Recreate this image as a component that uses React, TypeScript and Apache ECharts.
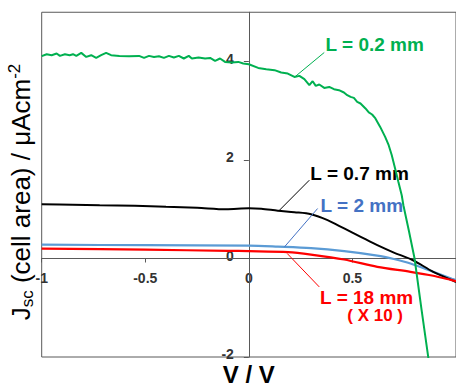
import React, { useEffect, useRef } from "react";
import * as echarts from "echarts";

const FONT = '"Liberation Sans", Arial, "DejaVu Sans", sans-serif';

// Photocurrent–voltage curves: [V (volts), Jsc (µA cm^-2)]
const curveL02: [number, number][] = [
  [-1.0, 4.108], [-0.976, 4.148], [-0.952, 4.128], [-0.928, 4.162], [-0.912, 4.114],
  [-0.888, 4.148], [-0.865, 4.128], [-0.849, 4.148], [-0.833, 4.114], [-0.809, 4.175],
  [-0.785, 4.093], [-0.761, 4.128], [-0.737, 4.073], [-0.713, 4.128], [-0.689, 4.175],
  [-0.665, 4.128], [-0.625, 4.114], [-0.578, 4.108], [-0.53, 4.114], [-0.506, 4.073],
  [-0.482, 4.114], [-0.458, 4.093], [-0.434, 4.108], [-0.41, 4.073], [-0.386, 4.114],
  [-0.362, 4.081], [-0.338, 4.114], [-0.314, 4.061], [-0.29, 4.114], [-0.275, 4.061],
  [-0.243, 4.081], [-0.211, 4.061], [-0.187, 4.073], [-0.163, 4.012], [-0.139, 4.061],
  [-0.115, 3.992], [-0.083, 3.98], [-0.051, 3.992], [-0.027, 3.959], [0.0, 3.945],
  [0.045, 3.87], [0.084, 3.844], [0.124, 3.824], [0.156, 3.777], [0.188, 3.756],
  [0.22, 3.687], [0.244, 3.708], [0.268, 3.641], [0.292, 3.519], [0.308, 3.6],
  [0.323, 3.505], [0.34, 3.533], [0.364, 3.464], [0.388, 3.484], [0.411, 3.438],
  [0.435, 3.418], [0.459, 3.371], [0.475, 3.316], [0.491, 3.281], [0.507, 3.261],
  [0.523, 3.18], [0.539, 3.147], [0.563, 3.046], [0.579, 2.965], [0.595, 2.924],
  [0.611, 2.843], [0.634, 2.672], [0.658, 2.469], [0.675, 2.301], [0.69, 2.097],
  [0.706, 1.827], [0.722, 1.555], [0.738, 1.285], [0.746, 1.082], [0.772, 0.575],
  [0.8, 0.0], [0.834, -1.05], [0.866, -2.004], [0.875, -2.3],
];

const curveL07: [number, number][] = [
  [-1.0, 1.1], [-0.85, 1.09], [-0.72, 1.08], [-0.55, 1.07], [-0.4, 1.05],
  [-0.25, 1.03], [-0.11, 1.0], [0.0, 1.02], [0.06, 1.01], [0.14, 0.97],
  [0.22, 0.94], [0.3, 0.9], [0.38, 0.78], [0.46, 0.61], [0.54, 0.44],
  [0.62, 0.27], [0.7, 0.12], [0.79, -0.03], [0.89, -0.27], [0.98, -0.44], [1.0, -0.48],
];

const curveL2: [number, number][] = [
  [-1.0, 0.28], [-0.5, 0.27], [0.0, 0.26], [0.14, 0.24], [0.3, 0.21],
  [0.46, 0.15], [0.62, 0.06], [0.7, -0.01], [0.78, -0.1], [0.89, -0.27],
  [0.98, -0.41], [1.0, -0.44],
];

// L = 18 mm values are shown multiplied by 10
const curveL18x10: [number, number][] = [
  [-1.0, 0.2], [-0.5, 0.18], [-0.1, 0.155], [0.0, 0.15], [0.19, 0.13],
  [0.3, 0.08], [0.46, -0.02], [0.62, -0.17], [0.78, -0.27], [0.89, -0.35],
  [0.98, -0.44], [1.0, -0.46],
];

const xTicks = [-1, -0.5, 0, 0.5];
const yTicks = [-2, 0, 2, 4];

const GREEN = "#00b050";
const BLACK = "#000000";
const BLUE_LINE = "#5b9bd5";
const BLUE_TEXT = "#4472c4";
const RED = "#ff0000";
const AXIS = "#595959";
const TICK_TEXT = "#333333";

// Curve annotations (anchor is the left-middle of the text, in data units)
const annotations = [
  { text: "L = 0.2 mm", color: GREEN, size: 19, at: [0.37, 4.337] },
  { text: "L = 0.7 mm", color: BLACK, size: 19, at: [0.297, 1.726] },
  { text: "L = 2 mm", color: BLUE_TEXT, size: 19, at: [0.346, 1.066] },
  { text: "L = 18 mm", color: RED, size: 19, at: [0.344, -0.786] },
  { text: "( X 10 )", color: RED, size: 17, at: [0.475, -1.165] },
];

// Leader lines from each annotation to its curve
const leaderL02 = [[0.364, 4.183], [0.22, 3.681]];
const leaderL07 = [[0.292, 1.59], [0.148, 0.981]];
const leaderL2 = [[0.332, 1.015], [0.172, 0.236]];
const leaderL18 = [[0.185, 0.102], [0.34, -0.577]];

function leader(pts: number[][], color: string) {
  return {
    silent: true,
    symbol: ["none", "none"],
    animation: false,
    label: { show: false },
    emphasis: { disabled: true },
    lineStyle: { color, width: 1, type: "solid" },
    data: [[{ coord: pts[0] }, { coord: pts[1] }]],
  };
}

function curveSeries(data: [number, number][], color: string, width: number, smooth: number | boolean, lead: number[][], leadColor: string) {
  return {
    type: "line",
    data,
    showSymbol: false,
    symbol: "none",
    smooth,
    lineStyle: { color, width },
    emphasis: { disabled: true },
    markLine: leader(lead, leadColor),
  };
}

export default function App() {
  const ref = useRef<HTMLDivElement>(null);

  useEffect(() => {
    if (!ref.current) return;
    const chart = echarts.init(ref.current, undefined, { renderer: "svg" });

    chart.setOption({
      animation: false,
      grid: {
        left: 41.7,
        right: -3.7,
        top: 12.25,
        bottom: 29,
        show: true,
        borderColor: AXIS,
        borderWidth: 1,
        backgroundColor: "transparent",
      },
      xAxis: {
        type: "value",
        min: -1,
        max: 1,
        interval: 0.5,
        splitLine: { show: false },
        axisLine: { show: true, onZero: true, lineStyle: { color: AXIS, width: 1 } },
        axisTick: { show: true, length: 4, inside: false, customValues: xTicks, lineStyle: { color: AXIS } },
        // tick labels are drawn beside the zero line below
        axisLabel: { show: false },
      },
      yAxis: {
        type: "value",
        min: -2,
        max: 5,
        interval: 2,
        splitLine: { show: false },
        axisLine: { show: true, onZero: true, lineStyle: { color: AXIS, width: 1 } },
        axisTick: { show: true, length: 5, inside: false, customValues: yTicks, lineStyle: { color: AXIS } },
        axisLabel: { show: false },
      },
      series: [
        curveSeries(curveL2, BLUE_LINE, 2.2, 0.3, leaderL2, BLUE_TEXT),
        curveSeries(curveL07, BLACK, 2, 0.3, leaderL07, BLACK),
        curveSeries(curveL18x10, RED, 2.2, 0.3, leaderL18, RED),
        curveSeries(curveL02, GREEN, 2, false, leaderL02, GREEN),
      ],
    });

    const toPx = (p: number[]) =>
      chart.convertToPixel({ xAxisIndex: 0, yAxisIndex: 0 }, p) as number[];

    const tickFont = { fontSize: 14, fontWeight: "bold", fontFamily: FONT, fill: TICK_TEXT };
    const [zeroX, zeroY] = toPx([0, 0]);

    const xLabelTexts = xTicks.map((v) => ({
      type: "text",
      x: toPx([v, 0])[0],
      y: zeroY + 19.5,
      silent: true,
      style: { ...tickFont, text: String(v), align: "center", verticalAlign: "middle" },
    }));

    const yLabelTexts = yTicks.map((v) => ({
      type: "text",
      x: zeroX - 15,
      y: toPx([0, v])[1] - 3,
      silent: true,
      style: { ...tickFont, text: String(v), align: "right", verticalAlign: "middle" },
    }));

    const texts = annotations.map((a) => {
      const [x, y] = toPx(a.at);
      return {
        type: "text",
        x,
        y,
        silent: true,
        style: {
          text: a.text,
          fill: a.color,
          fontSize: a.size,
          fontWeight: "bold",
          fontFamily: FONT,
          align: "left",
          verticalAlign: "middle",
        },
      };
    });

    chart.setOption({
      graphic: [
        ...xLabelTexts,
        ...yLabelTexts,
        ...texts,
        {
          type: "text",
          x: zeroX,
          y: 374,
          silent: true,
          style: {
            text: "V / V",
            fill: "#000",
            fontSize: 24,
            fontWeight: "bold",
            fontFamily: FONT,
            align: "center",
            verticalAlign: "middle",
          },
        },
        {
          type: "text",
          x: 21,
          y: 192,
          rotation: Math.PI / 2,
          silent: true,
          style: {
            text: "{m|J}{s|sc}{m| (cell area) / μAcm}{p|-2}",
            align: "center",
            verticalAlign: "middle",
            rich: {
              m: { fontSize: 26, fontFamily: FONT, fill: "#000", lineHeight: 30 },
              s: { fontSize: 17, fontFamily: FONT, fill: "#000", lineHeight: 17, verticalAlign: "bottom" },
              p: { fontSize: 17, fontFamily: FONT, fill: "#000", lineHeight: 17, verticalAlign: "top" },
            },
          },
        },
      ],
    });

    return () => chart.dispose();
  }, []);

  return (
    <div
      ref={ref}
      style={{ position: "fixed", left: 0, top: 0, width: 456, height: 386, background: "#fff" }}
    />
  );
}
